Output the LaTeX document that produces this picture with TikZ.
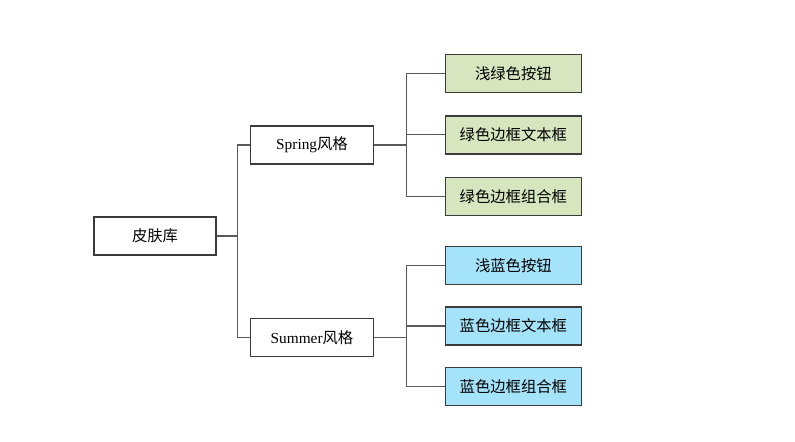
\documentclass[tikz,border=0pt]{standalone}
\usepackage{fontspec}
\setmainfont{Liberation Serif}
\newfontfamily\cjk{Noto Sans CJK SC}
\usepackage{xcolor}
\usetikzlibrary{positioning}
\definecolor{springgreen}{HTML}{D7E6BE}
\definecolor{summerblue}{HTML}{A5E3FA}
\definecolor{boxline}{HTML}{3C3C3C}
\definecolor{treeline}{HTML}{5A5A5A}
\tikzset{
	every node/.style = {font=\fontsize{11.5}{13}\selectfont, inner sep=0},
	skinbox/.style = {draw=boxline, line width=1pt, rectangle, minimum height=28.5pt},
	rootbox/.style = {skinbox, minimum width=91.5pt},
	stylebox/.style = {skinbox, minimum width=92pt},
	greenbox/.style = {skinbox, fill=springgreen, minimum width=102pt},
	bluebox/.style = {skinbox, fill=summerblue, minimum width=102pt},
	branch/.style = {draw=treeline, line width=0.9pt}
}

\begin{document}
\begin{tikzpicture}[node distance=16.5pt]
		
		\useasboundingbox (-116.25pt,-154.5pt) rectangle (480pt,177pt);
		
		\node[rootbox] (root) {\cjk 皮肤库};
		
		\node[stylebox, right=25pt of root, yshift=68.25pt] (spring) {Spring{\cjk 风格}};
		\node[stylebox, right=25pt of root, yshift=-76pt] (summer) {Summer{\cjk 风格}};
		
		\node[greenbox, right=53pt of spring, yshift=53.6pt] (g1) {\cjk 浅绿色按钮};
		\node[greenbox, below=of g1] (g2) {\cjk 绿色边框文本框};
		\node[greenbox, below=of g2] (g3) {\cjk 绿色边框组合框};
		
		\node[bluebox, right=53pt of summer, yshift=54pt] (b1) {\cjk 浅蓝色按钮};
		\node[bluebox, below=16pt of b1] (b2) {\cjk 蓝色边框文本框};
		\node[bluebox, below=16pt of b2] (b3) {\cjk 蓝色边框组合框};
		
		% branch points
		\coordinate (rj) at ([xshift=15.75pt]root.east);
		\coordinate (sj) at ([xshift=24.5pt]spring.east);
		\coordinate (mj) at ([xshift=24.5pt]summer.east);
		
		\path[branch] (root.east) -- (rj) |- (spring.west);
		\path[branch] (rj) |- (summer.west);
		
		\path[branch] (spring.east) -- (sj);
		\foreach \n in {g1,g2,g3}
			\path[branch] (\n.west) -| (sj);
		
		\path[branch] (summer.east) -- (mj);
		\foreach \n in {b1,b2,b3}
			\path[branch] (\n.west) -| (mj);
		
\end{tikzpicture}
\end{document}
